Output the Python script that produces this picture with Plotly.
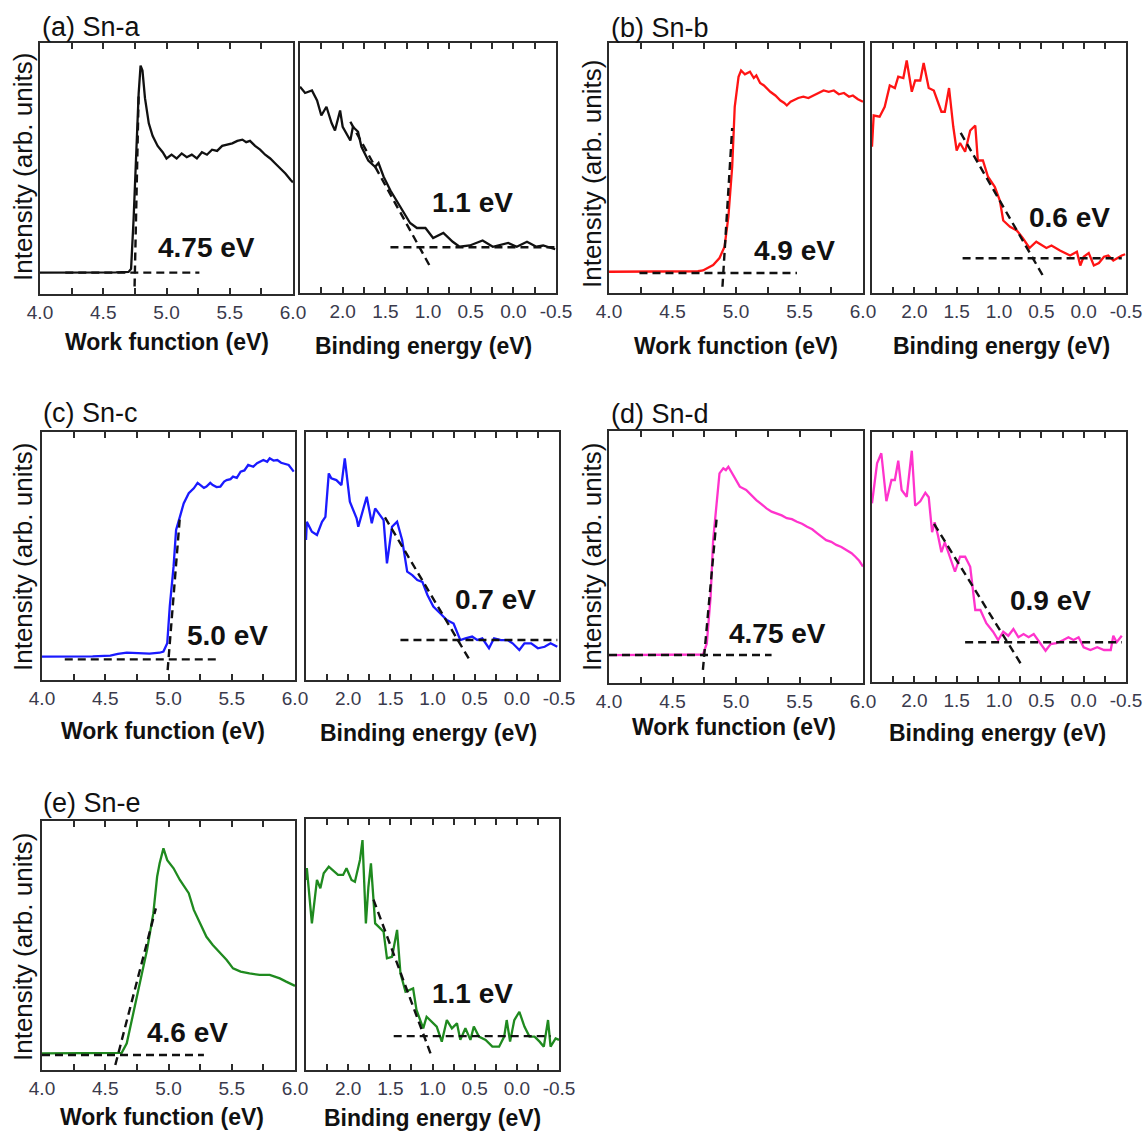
import plotly.graph_objects as go

# ---------------------------------------------------------------
# UPS spectra of five Sn samples: secondary-electron cut-off
# (work function) and valence-band edge (binding energy).
# Intensities are in arbitrary units (0-100 of the panel height).
# ---------------------------------------------------------------

samples = ["Sn-a", "Sn-b", "Sn-c", "Sn-d", "Sn-e"]
letters = ["a", "b", "c", "d", "e"]
colors = ["#111111", "#ff1414", "#1a1aff", "#ff33cc", "#1f8a1f"]

# --- secondary-electron cut-off spectra (work function, eV) ---
wf_x_a = [4.0, 4.3, 4.6, 4.70, 4.72, 4.74, 4.76, 4.78, 4.795, 4.81, 4.83, 4.86, 4.89, 4.93,
          4.97, 5.00, 5.04, 5.08, 5.12, 5.16, 5.20, 5.24, 5.28, 5.32, 5.36, 5.40, 5.44, 5.48,
          5.52, 5.56, 5.60, 5.63, 5.66, 5.70, 5.74, 5.78, 5.82, 5.86, 5.90, 5.94, 5.98, 6.0]
wf_y_a = [8.5, 8.5, 8.6, 8.8, 10.0, 30.0, 55.0, 80.0, 91.0, 89.0, 78.0, 68.0, 63.0, 59.0,
          56.5, 54.0, 55.5, 54.0, 56.0, 54.5, 55.5, 54.0, 56.5, 55.5, 57.5, 57.0, 59.0, 59.5,
          60.0, 61.0, 61.5, 60.5, 61.0, 59.0, 57.5, 55.5, 54.0, 52.0, 50.0, 48.0, 45.5, 44.5]

wf_x_b = [4.0, 4.3, 4.6, 4.70, 4.74, 4.78, 4.82, 4.87, 4.91, 4.94, 4.97, 4.99, 5.02, 5.04,
          5.07, 5.11, 5.14, 5.16, 5.19, 5.22, 5.25, 5.27, 5.31, 5.35, 5.38, 5.40, 5.43, 5.45,
          5.49, 5.53, 5.57, 5.61, 5.65, 5.69, 5.73, 5.77, 5.81, 5.85, 5.89, 5.92, 5.96, 6.0]
wf_y_b = [8.5, 8.5, 8.6, 8.7, 9.0, 10.0, 11.2, 14.0, 18.5, 30.5, 50.5, 74.5, 86.5, 89.0,
          87.5, 88.5, 86.0, 87.0, 84.0, 83.0, 81.5, 80.5, 79.0, 77.0, 76.0, 75.0, 76.5, 77.0,
          78.0, 78.5, 78.0, 79.0, 80.0, 81.0, 80.5, 81.0, 79.5, 80.0, 78.5, 79.0, 77.5, 76.5]

wf_x_c = [4.0, 4.2, 4.4, 4.54, 4.60, 4.67, 4.75, 4.85, 4.93, 4.96, 4.99, 5.01, 5.04, 5.06,
          5.09, 5.12, 5.16, 5.20, 5.23, 5.25, 5.28, 5.30, 5.33, 5.35, 5.38, 5.41, 5.44, 5.46,
          5.49, 5.51, 5.54, 5.57, 5.60, 5.63, 5.67, 5.70, 5.73, 5.75, 5.78, 5.80, 5.83, 5.86,
          5.89, 5.91, 5.95, 5.99]
wf_y_c = [9.4, 9.4, 9.5, 9.8, 10.5, 11.0, 10.7, 10.6, 11.0, 11.5, 14.8, 29.6, 45.7, 60.5,
          65.8, 71.2, 75.3, 77.3, 79.5, 78.6, 77.5, 78.0, 79.5, 78.6, 77.8, 78.0, 80.0, 80.6,
          81.0, 82.0, 81.5, 84.0, 84.5, 86.7, 86.0, 87.4, 88.2, 88.7, 88.0, 89.4, 88.5, 88.7,
          87.6, 87.4, 86.7, 84.0]

wf_x_d = [4.0, 4.3, 4.6, 4.74, 4.77, 4.80, 4.82, 4.85, 4.87, 4.90, 4.92, 4.94, 4.96, 4.98,
          5.03, 5.08, 5.12, 5.16, 5.20, 5.24, 5.28, 5.32, 5.36, 5.40, 5.44, 5.48, 5.52, 5.56,
          5.60, 5.64, 5.68, 5.71, 5.75, 5.79, 5.83, 5.87, 5.91, 5.94, 5.97, 6.0]
wf_y_d = [11.1, 11.1, 11.1, 11.3, 15.7, 34.2, 56.7, 73.9, 83.2, 85.2, 84.5, 85.8, 84.0, 82.5,
          77.9, 76.6, 74.5, 72.6, 71.0, 69.3, 68.0, 67.3, 66.5, 65.4, 65.0, 64.0, 63.2, 62.0,
          61.0, 59.4, 58.0, 56.7, 56.0, 54.8, 54.0, 52.8, 51.5, 50.1, 48.5, 46.2]

wf_x_e = [4.0, 4.3, 4.6, 4.63, 4.67, 4.72, 4.77, 4.83, 4.88, 4.91, 4.93, 4.96, 4.99, 5.04,
          5.09, 5.16, 5.20, 5.25, 5.30, 5.35, 5.41, 5.46, 5.51, 5.57, 5.64, 5.72, 5.80, 5.88,
          5.93, 5.98, 6.0]
wf_y_e = [6.7, 6.7, 6.7, 6.9, 10.7, 22.8, 34.8, 48.2, 62.9, 77.6, 83.0, 89.0, 84.3, 81.0,
          76.3, 71.0, 64.3, 58.9, 53.5, 50.2, 46.9, 44.2, 40.8, 39.5, 38.8, 38.2, 38.2, 36.8,
          35.5, 34.1, 33.8]

# --- valence-band spectra (binding energy, eV) ---
vb_x_a = [2.50, 2.44, 2.36, 2.30, 2.25, 2.19, 2.13, 2.09, 2.03, 2.00, 1.91, 1.88, 1.82, 1.78,
          1.70, 1.62, 1.58, 1.52, 1.44, 1.37, 1.29, 1.21, 1.13, 1.03, 0.94, 0.82, 0.71, 0.63,
          0.51, 0.36, 0.24, 0.06, -0.04, -0.16, -0.27, -0.35, -0.49]
vb_y_a = [82.5, 80.0, 81.0, 77.0, 71.0, 74.5, 68.0, 65.0, 73.0, 66.5, 61.0, 66.5, 64.5, 58.5,
          53.0, 50.5, 52.0, 46.5, 41.0, 37.0, 32.0, 28.0, 26.0, 26.0, 22.0, 24.0, 20.5, 18.5,
          19.0, 21.0, 18.5, 20.0, 18.5, 20.5, 18.5, 19.0, 17.5]

vb_x_b = [2.50, 2.48, 2.41, 2.35, 2.29, 2.23, 2.19, 2.13, 2.09, 2.03, 1.99, 1.93, 1.89, 1.83,
          1.77, 1.68, 1.64, 1.59, 1.54, 1.50, 1.46, 1.40, 1.34, 1.28, 1.25, 1.19, 1.13, 1.05,
          0.99, 0.95, 0.87, 0.79, 0.72, 0.64, 0.56, 0.44, 0.38, 0.28, 0.16, 0.08, 0.04, 0.00,
          -0.06, -0.12, -0.18, -0.24, -0.29, -0.35, -0.45, -0.49]
vb_y_b = [58.5, 71.0, 70.5, 74.5, 83.0, 82.0, 86.5, 86.0, 93.0, 80.5, 85.0, 85.0, 92.0, 82.0,
          81.0, 72.5, 72.5, 82.0, 66.5, 57.0, 60.0, 56.5, 65.0, 67.0, 53.0, 53.0, 46.5, 42.5,
          37.0, 29.0, 26.5, 25.0, 22.0, 18.0, 20.5, 18.0, 19.0, 17.0, 15.0, 16.5, 11.0, 14.5,
          16.0, 11.0, 12.0, 14.5, 15.0, 13.0, 15.0, 15.5]

vb_x_c = [2.50, 2.49, 2.43, 2.37, 2.31, 2.27, 2.23, 2.20, 2.14, 2.08, 2.04, 1.98, 1.90, 1.88,
          1.78, 1.72, 1.68, 1.60, 1.58, 1.54, 1.48, 1.42, 1.36, 1.30, 1.24, 1.18, 1.12, 1.06,
          0.99, 0.91, 0.83, 0.75, 0.67, 0.61, 0.53, 0.47, 0.41, 0.33, 0.27, 0.19, 0.11, 0.05,
          -0.03, -0.09, -0.17, -0.25, -0.33, -0.40, -0.48]
vb_y_c = [56.5, 63.8, 59.8, 58.5, 63.8, 65.8, 83.3, 81.3, 80.6, 78.6, 89.4, 71.9, 65.2, 61.8,
          73.9, 63.2, 69.2, 65.8, 64.5, 47.0, 61.8, 63.8, 56.5, 43.7, 42.3, 40.3, 39.6, 34.3,
          29.6, 26.9, 24.2, 22.8, 16.1, 16.8, 17.5, 16.1, 16.8, 12.8, 16.8, 16.1, 16.1, 14.8,
          12.1, 14.8, 14.8, 12.8, 13.4, 14.8, 13.4]

vb_x_d = [2.50, 2.44, 2.39, 2.33, 2.27, 2.23, 2.19, 2.15, 2.09, 2.03, 1.99, 1.93, 1.87, 1.83,
          1.79, 1.76, 1.72, 1.68, 1.64, 1.56, 1.52, 1.46, 1.40, 1.34, 1.28, 1.22, 1.15, 1.07,
          1.01, 0.95, 0.89, 0.83, 0.77, 0.71, 0.65, 0.59, 0.51, 0.45, 0.39, 0.32, 0.24, 0.18,
          0.12, 0.06, 0.00, -0.08, -0.16, -0.24, -0.32, -0.35, -0.39, -0.45]
vb_y_d = [71.5, 87.5, 91.5, 72.3, 80.8, 80.8, 88.5, 76.8, 74.1, 92.5, 70.5, 72.3, 75.7, 73.9,
          59.9, 63.9, 58.5, 51.9, 55.9, 47.9, 44.1, 50.1, 50.1, 46.1, 28.8, 28.8, 23.5, 20.1,
          16.8, 20.1, 18.5, 21.2, 17.9, 19.2, 17.9, 19.2, 15.5, 12.5, 15.2, 15.5, 16.8, 17.9,
          16.8, 17.9, 13.9, 12.8, 13.9, 12.8, 12.8, 18.5, 15.9, 18.5]

vb_x_e = [2.50, 2.49, 2.43, 2.37, 2.33, 2.29, 2.23, 2.17, 2.12, 2.06, 2.02, 1.96, 1.92, 1.86,
          1.83, 1.79, 1.76, 1.73, 1.68, 1.64, 1.58, 1.54, 1.48, 1.42, 1.38, 1.32, 1.27, 1.23,
          1.19, 1.11, 1.07, 1.01, 0.95, 0.89, 0.83, 0.77, 0.71, 0.67, 0.61, 0.55, 0.51, 0.45,
          0.37, 0.29, 0.21, 0.15, 0.12, 0.08, 0.03, -0.03, -0.09, -0.15, -0.21, -0.27, -0.32,
          -0.37, -0.40, -0.46, -0.50]
vb_y_e = [75.7, 80.4, 58.4, 75.7, 72.4, 78.4, 81.0, 79.0, 77.7, 77.7, 80.4, 75.7, 75.0, 83.7,
          91.6, 58.4, 73.0, 82.3, 58.4, 57.1, 55.1, 44.5, 45.1, 55.8, 38.5, 31.2, 31.9, 32.5,
          23.9, 16.6, 21.2, 19.2, 17.3, 11.3, 19.9, 16.6, 18.6, 12.0, 16.6, 12.0, 17.3, 13.3,
          12.0, 9.3, 9.3, 13.3, 19.9, 11.3, 19.9, 23.2, 17.3, 13.3, 13.3, 11.3, 9.3, 19.9,
          9.3, 12.6, 12.0]

wf_x = [wf_x_a, wf_x_b, wf_x_c, wf_x_d, wf_x_e]
wf_y = [wf_y_a, wf_y_b, wf_y_c, wf_y_d, wf_y_e]
vb_x = [vb_x_a, vb_x_b, vb_x_c, vb_x_d, vb_x_e]
vb_y = [vb_y_a, vb_y_b, vb_y_c, vb_y_d, vb_y_e]

# --- linear extrapolations: onset energies (eV) and fit geometry ---
wf_onset = [4.75, 4.9, 5.0, 4.75, 4.6]          # cut-off energy = work function
wf_base = [8.5, 8.0, 8.3, 11.1, 6.0]            # background level
wf_top_x = [4.78, 4.97, 5.09, 4.85, 4.90]       # upper end of the edge fit
wf_top_y = [80.0, 66.0, 65.8, 66.7, 64.9]
wf_low_y = [3.0, 2.5, 4.0, 5.2, 2.0]            # lower end of the edge fit
wf_bg_from = [4.2, 4.24, 4.18, 4.0, 4.0]        # background line extent
wf_bg_to = [5.26, 5.48, 5.41, 5.28, 5.28]

vb_onset = [1.1, 0.6, 0.7, 0.9, 1.1]            # valence-band maximum
vb_base = [18.3, 13.9, 16.1, 15.9, 13.5]
vb_top_x = [1.91, 1.46, 1.58, 1.79, 1.72]
vb_top_y = [68.5, 64.5, 66.5, 64.5, 69.7]
vb_low_y = [11.2, 7.2, 8.7, 7.5, 6.6]
vb_bg_from = [1.44, 1.43, 1.38, 1.40, 1.46]
vb_bg_to = [-0.5, -0.45, -0.48, -0.45, -0.40]

wf_ticks = [4.0, 4.25, 4.5, 4.75, 5.0, 5.25, 5.5, 5.75, 6.0]
wf_ticklabels = ["4.0", "", "4.5", "", "5.0", "", "5.5", "", "6.0"]
vb_ticks = [2.5, 2.25, 2.0, 1.75, 1.5, 1.25, 1.0, 0.75, 0.5, 0.25, 0.0, -0.25, -0.5]
vb_ticklabels = ["", "", "2.0", "", "1.5", "", "1.0", "", "0.5", "", "0.0", "", "-0.5"]

# ---------------------------------------------------------------
W, H = 1144, 1132
FONT = "Liberation Sans, Arial, sans-serif"

# panel frames in pixels: (left, right, top, bottom), order aL aR bL bR ...
frames = [
    (40, 293, 43, 294), (300, 556, 43, 293),
    (609, 863, 43, 293), (872, 1126, 43, 293),
    (42, 295, 432, 680), (306, 559, 432, 680),
    (609, 863, 431, 683), (872, 1126, 432, 682),
    (42, 295, 821, 1070), (306, 559, 819, 1070),
]

# text placement (pixels)
title_pos = [(40, 27), (609, 28), (41, 413), (609, 414), (41, 803)]
ytitle_pos = [(23, 167), (592, 174), (23, 557), (592, 557), (23, 947)]
wf_xtitle_pos = [(167, 342), (736, 346), (163, 731), (734, 727), (162, 1117)]
vb_xtitle_pos = [(423, 346), (1001, 346), (428, 733), (997, 733), (432, 1118)]
# value labels in data coordinates of each panel
wf_label_at = [(5.32, 18.7), (5.46, 17.2), (5.47, 18.1), (5.33, 19.8), (5.15, 14.9)]
vb_label_at = [(0.48, 36.4), (0.17, 30.2), (0.25, 32.3), (0.39, 32.8), (0.52, 30.3)]


def fx(p):
    return p / W


def fy(p):
    return 1 - p / H


def ev_text(v):
    s = f"{v:.2f}".rstrip("0")
    if s.endswith("."):
        s += "0"
    return s + " eV"


def edge_fit(onset, base, top_x, top_y, low_y, bg_from, bg_to):
    """Dashed extrapolation: edge line through (onset, base) and the
    upper anchor, plus the horizontal background line."""
    k = (top_x - onset) / (top_y - base)
    low_x = onset + (low_y - base) * k
    xs = [low_x, top_x, None, bg_from, bg_to]
    ys = [low_y, top_y, None, base, base]
    return xs, ys


fig = go.Figure()
layout = dict(
    width=W, height=H,
    autosize=False,
    margin=dict(l=0, r=0, t=0, b=0, pad=0),
    paper_bgcolor="white", plot_bgcolor="white",
    showlegend=False,
    font=dict(family=FONT, color="#111111"),
)
annotations = []

axis_common = dict(showline=True, linecolor="#2b2b2b", linewidth=1.8,
                   showgrid=False, zeroline=False, automargin=False)

for s in range(5):
    for side in range(2):
        idx = 2 * s + side
        n = "" if idx == 0 else str(idx + 1)
        l, r, t, b = frames[idx]
        if side == 0:
            xs, ys = wf_x[s], wf_y[s]
            fit = edge_fit(wf_onset[s], wf_base[s], wf_top_x[s], wf_top_y[s],
                           wf_low_y[s], wf_bg_from[s], wf_bg_to[s])
            xr, tv, tt = [4.0, 6.0], wf_ticks, wf_ticklabels
        else:
            xs, ys = vb_x[s], vb_y[s]
            fit = edge_fit(vb_onset[s], vb_base[s], vb_top_x[s], vb_top_y[s],
                           vb_low_y[s], vb_bg_from[s], vb_bg_to[s])
            xr, tv, tt = [2.5, -0.5], vb_ticks, vb_ticklabels

        fig.add_trace(go.Scatter(x=xs, y=ys, mode="lines", xaxis="x" + n, yaxis="y" + n,
                                 line=dict(color=colors[s], width=2.3), hoverinfo="skip"))
        fig.add_trace(go.Scatter(x=fit[0], y=fit[1], mode="lines", xaxis="x" + n,
                                 yaxis="y" + n, connectgaps=False,
                                 line=dict(color="#111111", width=2.4, dash="8px,5px"),
                                 hoverinfo="skip"))

        layout["xaxis" + n] = dict(
            domain=[fx(l), fx(r)], anchor="y" + n, range=xr, autorange=False,
            tickmode="array", tickvals=tv, ticktext=tt, mirror="allticks",
            ticks="inside", ticklen=6, tickwidth=1.8, tickcolor="#2b2b2b",
            tickfont=dict(family=FONT, size=19, color="#3a3a4c"),
            **axis_common)
        layout["yaxis" + n] = dict(
            domain=[fy(b), fy(t)], anchor="x" + n, range=[0, 100], autorange=False,
            showticklabels=False, ticks="", mirror=True, **axis_common)

        # onset value label
        if side == 0:
            lx, ly = wf_label_at[s]
            txt = ev_text(wf_onset[s])
        else:
            lx, ly = vb_label_at[s]
            txt = ev_text(vb_onset[s])
        annotations.append(dict(x=lx, y=ly, xref="x" + n, yref="y" + n, text=txt,
                                showarrow=False, xanchor="center", yanchor="middle",
                                font=dict(family=FONT, size=28, color="#111111",
                                          weight="bold")))

    # panel title
    tx, ty = title_pos[s]
    annotations.append(dict(x=fx(tx), y=fy(ty), xref="paper", yref="paper",
                            text=f"({letters[s]}) {samples[s]}", showarrow=False,
                            xanchor="left", yanchor="middle",
                            font=dict(family=FONT, size=27, color="#111111")))
    # y-axis title
    yx, yy = ytitle_pos[s]
    annotations.append(dict(x=fx(yx), y=fy(yy), xref="paper", yref="paper",
                            text="Intensity (arb. units)", textangle=-90,
                            showarrow=False, xanchor="center", yanchor="middle",
                            font=dict(family=FONT, size=26, color="#111111")))
    # x-axis titles
    for (ax, ay), label in ((wf_xtitle_pos[s], "Work function (eV)"),
                            (vb_xtitle_pos[s], "Binding energy (eV)")):
        annotations.append(dict(x=fx(ax), y=fy(ay), xref="paper", yref="paper",
                                text=label, showarrow=False,
                                xanchor="center", yanchor="middle",
                                font=dict(family=FONT, size=23, color="#111111",
                                          weight="bold")))

layout["annotations"] = annotations
fig.update_layout(**layout)
fig.write_html("out.html")
